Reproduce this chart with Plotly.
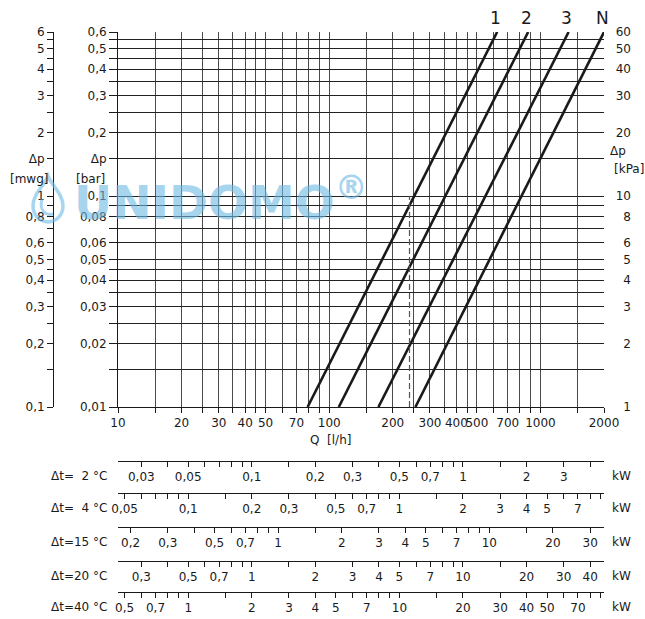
import math
import plotly.graph_objects as go

W, H = 645, 619

# ---------------- data ----------------
q_grid = [10, 15, 20, 25, 30, 35, 40, 45, 50, 60, 70, 80, 90, 100, 150, 200, 250,
          300, 350, 400, 450, 500, 600, 700, 800, 900, 1000, 1500]
q_label_vals = [10, 20, 30, 40, 50, 70, 100, 200, 300, 400, 500, 700, 1000, 2000]
q_label_text = ["10", "20", "30", "40", "50", "70", "100", "200", "300", "400",
                "500", "700", "1000", "2000"]

dp_grid = [0.01, 0.015, 0.02, 0.025, 0.03, 0.035, 0.04, 0.045, 0.05, 0.06, 0.07,
           0.08, 0.09, 0.1, 0.15, 0.2, 0.25, 0.3, 0.35, 0.4, 0.45, 0.5, 0.55, 0.6]
bar_labels = {0.01: "0,01", 0.02: "0,02", 0.03: "0,03", 0.04: "0,04", 0.05: "0,05",
              0.06: "0,06", 0.08: "0,08", 0.1: "0,1", 0.15: "Δp", 0.2: "0,2",
              0.3: "0,3", 0.4: "0,4", 0.5: "0,5", 0.6: "0,6"}
mwg_labels = {0.1: "0,1", 0.2: "0,2", 0.3: "0,3", 0.4: "0,4", 0.5: "0,5", 0.6: "0,6",
              0.8: "0,8", 1.0: "1", 1.5: "Δp", 2.0: "2", 3.0: "3", 4.0: "4",
              5.0: "5", 6.0: "6"}
kpa_vals = [1, 2, 3, 4, 5, 6, 8, 10, 20, 30, 40, 50, 60]
kpa_text = ["1", "2", "3", "4", "5", "6", "8", "10", "20", "30", "40", "50", "60"]

curve_names = ["1", "2", "3", "N"]
q_at_low = [79, 111, 171, 256]        # l/h at dp = 0.01 bar
q_at_high = [624, 875, 1360, 2000]    # l/h at dp = 0.6 bar
dp_low, dp_high = 0.01, 0.6
ref_q, ref_dp = 240, 0.1               # dashed reading line

# power scales: kW = Q[l/h] * dt * 1.163 / 1000
heat_factor = 1.163e-3
row_dt = [2, 4, 15, 20, 40]
row_names = ["Δt=  2 °C", "Δt=  4 °C", "Δt=15 °C", "Δt=20 °C", "Δt=40 °C"]
row_ticks = [
    [0.03, 0.04, 0.05, 0.06, 0.07, 0.08, 0.09, 0.1, 0.15, 0.2, 0.3, 0.4, 0.5, 0.6,
     0.7, 0.8, 0.9, 1, 1.5, 2, 3, 4],
    [0.05, 0.06, 0.07, 0.08, 0.09, 0.1, 0.15, 0.2, 0.3, 0.4, 0.5, 0.6, 0.7, 0.8,
     0.9, 1, 1.5, 2, 3, 4, 5, 6, 7, 8, 9],
    [0.2, 0.3, 0.4, 0.5, 0.6, 0.7, 0.8, 0.9, 1, 1.5, 2, 3, 4, 5, 6, 7, 8, 9, 10,
     15, 20, 30],
    [0.3, 0.4, 0.5, 0.6, 0.7, 0.8, 0.9, 1, 1.5, 2, 3, 4, 5, 6, 7, 8, 9, 10, 15,
     20, 30, 40],
    [0.5, 0.6, 0.7, 0.8, 0.9, 1, 1.5, 2, 3, 4, 5, 6, 7, 8, 9, 10, 15, 20, 30, 40,
     50, 60, 70, 80, 90],
]
row_labels = [
    [0.03, 0.05, 0.1, 0.2, 0.3, 0.5, 0.7, 1, 2, 3],
    [0.05, 0.1, 0.2, 0.3, 0.5, 0.7, 1, 2, 3, 4, 5, 7],
    [0.2, 0.3, 0.5, 0.7, 1, 2, 3, 4, 5, 7, 10, 20, 30],
    [0.3, 0.5, 0.7, 1, 2, 3, 4, 5, 7, 10, 20, 30, 40],
    [0.5, 0.7, 1, 2, 3, 4, 5, 7, 10, 20, 30, 40, 50, 70],
]

# ---------------- layout helpers ----------------
FONT = "DejaVu Sans"
INK = "#1a1a1a"
BLUE = "rgba(110,185,228,0.6)"


def px(x):
    return x / W


def py(y):
    return 1 - y / H


def fmt(v):
    s = ("%g" % v)
    return s.replace(".", ",")


XDOM = [px(118), px(604)]
YDOM = [py(407), py(32)]
XRANGE = [1, math.log10(2000)]

fig = go.Figure()

# characteristic lines
for name, q0, q1 in zip(curve_names, q_at_low, q_at_high):
    fig.add_trace(go.Scatter(x=[q0, q1], y=[dp_low, dp_high], mode="lines",
                             line=dict(color=INK, width=2.6), name=name,
                             showlegend=False, hoverinfo="skip"))
# dashed reading line
fig.add_trace(go.Scatter(x=[ref_q, ref_q], y=[dp_low, ref_dp], mode="lines",
                         line=dict(color="#555", width=1.2, dash="6px,3px"),
                         showlegend=False, hoverinfo="skip"))

# dummy traces so that the extra axes are drawn
fig.add_trace(go.Scatter(x=[None], y=[None], yaxis="y2", showlegend=False,
                         hoverinfo="skip"))
fig.add_trace(go.Scatter(x=[None], y=[None], yaxis="y3", showlegend=False,
                         hoverinfo="skip"))
for k in range(5):
    fig.add_trace(go.Scatter(x=[None], y=[None], xaxis="x%d" % (k + 2),
                             yaxis="y%d" % (k + 4), showlegend=False,
                             hoverinfo="skip"))

bar_tick_text = [bar_labels.get(v, "") for v in dp_grid]
mwg_vals = [round(v * 10, 4) for v in dp_grid]
mwg_tick_text = [mwg_labels.get(v, "") for v in mwg_vals]

layout = dict(
    width=W, height=H, autosize=False,
    margin=dict(l=0, r=0, t=0, b=0, pad=0, autoexpand=False),
    paper_bgcolor="white", plot_bgcolor="white",
    font=dict(family=FONT, size=12, color=INK),
    showlegend=False,
    xaxis=dict(
        type="log", range=XRANGE, domain=XDOM, anchor="y", automargin=False,
        tickmode="array", tickvals=q_label_vals, ticktext=q_label_text,
        ticks="outside", ticklen=5, tickcolor=INK, showgrid=False, tickangle=0,
        showline=True, linecolor=INK, linewidth=1, zeroline=False,
        tickfont=dict(size=12),
        minor=dict(tickmode="array", tickvals=q_grid, ticks="outside", ticklen=5,
                   tickcolor=INK, showgrid=True, gridcolor="#4a4a4a", gridwidth=1),
    ),
    yaxis=dict(
        type="log", range=[math.log10(dp_low), math.log10(dp_high)], domain=YDOM,
        anchor="x", automargin=False, tickmode="array", tickvals=dp_grid,
        ticktext=bar_tick_text,
        ticks="outside", ticklen=8, tickcolor=INK, showgrid=True,
        gridcolor="#222", gridwidth=1, showline=True, linecolor=INK, linewidth=1,
        zeroline=False, tickfont=dict(size=12),
    ),
    yaxis2=dict(
        type="log", range=[math.log10(dp_low * 10), math.log10(dp_high * 10)],
        domain=YDOM, overlaying="y", anchor="free", position=px(53), side="left",
        automargin=False,
        tickmode="array", tickvals=mwg_vals, ticktext=mwg_tick_text,
        ticks="outside", ticklen=6, tickcolor=INK, showgrid=False,
        showline=True, linecolor=INK, linewidth=1, zeroline=False,
        tickfont=dict(size=12),
    ),
    yaxis3=dict(
        type="log", range=[math.log10(dp_low * 100), math.log10(dp_high * 100)],
        domain=YDOM, overlaying="y", anchor="free", position=px(631), side="left",
        automargin=False,
        tickmode="array", tickvals=kpa_vals, ticktext=kpa_text,
        ticks="", showgrid=False, showline=False, zeroline=False,
        tickfont=dict(size=12),
    ),
)

row_line_y = [461, 493, 527, 561, 592]
for k in range(5):
    dt = row_dt[k]
    tv = [v / (heat_factor * dt) for v in row_ticks[k]]
    tt = [fmt(v) if v in row_labels[k] else "" for v in row_ticks[k]]
    p = py(row_line_y[k])
    layout["xaxis%d" % (k + 2)] = dict(
        type="log", range=XRANGE, domain=XDOM, anchor="y%d" % (k + 4),
        automargin=False,
        tickmode="array", tickvals=tv, ticktext=tt, ticks="outside", ticklen=5,
        tickcolor=INK, showgrid=False, showline=True, linecolor=INK, linewidth=1,
        zeroline=False, tickfont=dict(size=12), tickangle=0,
    )
    layout["yaxis%d" % (k + 4)] = dict(domain=[p, p + 0.01], visible=False,
                                       range=[0, 1], anchor="x%d" % (k + 2),
                                       automargin=False)

fig.update_layout(**layout)


def note(x, y, text, xanchor="center", size=12, color=INK, xref="paper", **kw):
    return dict(x=x, y=y, xref=xref, yref="paper", text=text, xanchor=xanchor,
                yanchor="middle", showarrow=False,
                font=dict(size=size, color=color), **kw)


ann = []
# curve names
for name, q1 in zip(curve_names, q_at_high):
    ann.append(note(math.log10(q1), py(18), name, size=17, xref="x", xshift=-2))
# units
ann.append(note(px(29), py(179), "[mwg]"))
ann.append(note(px(107), py(179), "[bar]", xanchor="right"))
ann.append(note(px(628), py(151), "Δp", xanchor="right"))
ann.append(note(px(629), py(169), "[kPa]"))
ann.append(note(px(330), py(440), "Q  [l/h]"))
# row labels
for k in range(5):
    yl = row_line_y[k] + 15
    ann.append(note(px(109), py(yl), row_names[k], xanchor="right"))
    ann.append(note(px(621), py(yl), "kW"))
# watermark
ann.append(dict(x=px(72), y=py(199), xref="paper", yref="paper",
                text="UNIDOMO<sup>®</sup>", xanchor="left", yanchor="middle",
                showarrow=False,
                font=dict(size=47, color=BLUE, weight="bold")))
fig.update_layout(annotations=ann)


def P(x, y):
    return "%.5f,%.5f" % (px(x), py(y))


drop = ("M " + P(48, 176) + " C " + P(52, 186) + " " + P(63, 194) + " " + P(63, 206) +
        " C " + P(63, 215) + " " + P(56, 222) + " " + P(48, 222) +
        " C " + P(40, 222) + " " + P(33, 215) + " " + P(33, 206) +
        " C " + P(33, 194) + " " + P(44, 186) + " " + P(48, 176) + " Z")
swirl = ("M " + P(42, 199) + " C " + P(39, 210) + " " + P(45, 216) + " " + P(53, 214))
fig.add_shape(type="path", path=drop, xref="paper", yref="paper",
              line=dict(color=BLUE, width=3.5))
fig.add_shape(type="path", path=swirl, xref="paper", yref="paper",
              line=dict(color=BLUE, width=3))

fig.write_html("out.html",
               config={"displayModeBar": False, "staticPlot": True},
               post_script="document.body.style.margin='0';"
                           "document.body.style.padding='0';")
